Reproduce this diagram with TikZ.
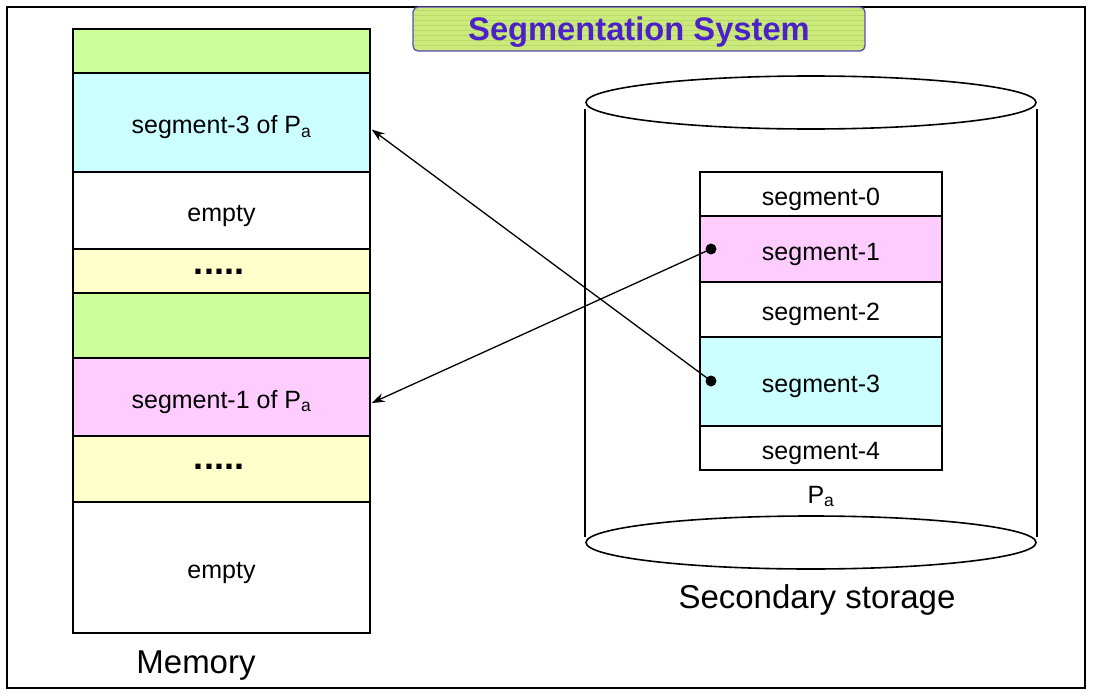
\documentclass[tikz,border=0pt]{standalone}
\usepackage{fontspec}
\setmainfont{Liberation Sans}
\usetikzlibrary{arrows.meta}
\definecolor{memgreen}{HTML}{CCFF99}
\definecolor{memcyan}{HTML}{CCFFFF}
\definecolor{memyellow}{HTML}{FFFFCC}
\definecolor{mempink}{HTML}{FFCCFF}
\definecolor{titlefill}{HTML}{CCE97C}
\definecolor{titlestripe}{HTML}{B8DA66}
\definecolor{titleedge}{HTML}{5A4FB0}
\definecolor{titletext}{HTML}{4B22C8}
\tikzset{
  cell/.style={draw=black, line width=1.4pt, inner sep=0pt, text height=22pt, text depth=0pt,
               font=\fontsize{25}{30}\selectfont},
  memcell/.style={cell, minimum width=297pt},
  segcell/.style={cell, minimum width=242pt},
  dotrow/.style={inner sep=0pt, text height=5pt, text depth=0pt, font=\fontsize{36}{40}\selectfont\bfseries},
  biglabel/.style={anchor=base, font=\fontsize{33}{38}\selectfont},
  pin/.style={circle, fill=black, inner sep=0pt, minimum size=11pt},
  link/.style={line width=1.3pt, -{Stealth[length=13pt,width=9pt]}},
}
\begin{document}
\begin{tikzpicture}[x=1pt, y=-1pt]
\useasboundingbox (0,0) rectangle (1093,696);
% outer frame
\draw[line width=1.6pt] (7,7) rectangle (1085,688);

% title banner
\begin{scope}
  \clip[rounded corners=5pt] (413,7) rectangle (865,51);
  \fill[titlefill] (413,7) rectangle (865,51);
  \foreach \yy in {10,15,...,50}
    \draw[titlestripe, line width=0.5pt] (413,\yy) -- (865,\yy);
\end{scope}
\node[draw=titleedge, line width=1.3pt, rounded corners=5pt, minimum width=452pt, minimum height=44pt, inner sep=0pt,
      text height=23pt, text depth=0pt,
      text=titletext, font=\fontsize{32.7}{36}\selectfont\bfseries] (title) at (639,29) {Segmentation System};

% memory column
\node[memcell, fill=memgreen,  minimum height=44pt] (m1) at (221.5,51) {};
\node[memcell, fill=memcyan,   minimum height=99pt] (m2) at (221.5,122.5) {segment-3 of P\textsubscript{a}};
\node[memcell, fill=white,     minimum height=77pt] (m3) at (221.5,210.5) {empty};
\node[memcell, fill=memyellow, minimum height=44pt] (m4) at (221.5,271) {};
\node[memcell, fill=memgreen,  minimum height=65pt] (m5) at (221.5,325.5) {};
\node[memcell, fill=mempink,   minimum height=78pt] (m6) at (221.5,397) {segment-1 of P\textsubscript{a}};
\node[memcell, fill=memyellow, minimum height=66pt] (m7) at (221.5,469) {};
\node[memcell, fill=white,     minimum height=131pt] (m8) at (221.5,567.5) {empty};
\node[dotrow] (dots1) at (219,272) {.....};
\node[dotrow] (dots2) at (219,467) {.....};
\node[biglabel] (memlabel) at (196,673) {Memory};

% secondary storage cylinder
\draw[line width=1.6pt] (811,102.5) ellipse [x radius=225, y radius=26.5];
\draw[line width=1.6pt] (585,109) -- (585,537);
\draw[line width=1.6pt] (1037,109) -- (1037,537);
\draw[line width=1.6pt] (811,542.5) ellipse [x radius=225, y radius=26.5];
\node[biglabel] (storelabel) at (817,608) {Secondary storage};

% segments of process P_a
\node[segcell, fill=white,   minimum height=44pt] (s0) at (821,194) {segment-0};
\node[segcell, fill=mempink, minimum height=66pt] (s1) at (821,249) {segment-1};
\node[segcell, fill=white,   minimum height=55pt] (s2) at (821,309.5) {segment-2};
\node[segcell, fill=memcyan, minimum height=89pt] (s3) at (821,381.5) {segment-3};
\node[segcell, fill=white,   minimum height=44pt] (s4) at (821,448) {segment-4};
\node[anchor=base, font=\fontsize{25}{30}\selectfont] (pa) at (821,503) {P\textsubscript{a}};

% loading links
\node[pin] (p1) at (711,249) {};
\node[pin] (p3) at (711,381) {};
\draw[link] (p1.center) -- ([shift={(1,6)}]m6.east);
\draw[link] (p3.center) -- ([shift={(1,7)}]m2.east);
\end{tikzpicture}
\end{document}
